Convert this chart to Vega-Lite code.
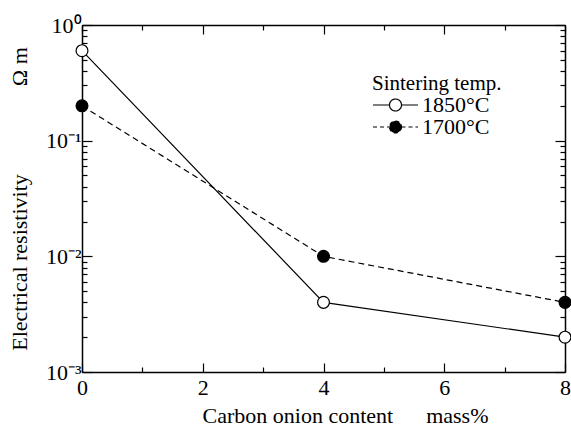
{
  "$schema": "https://vega.github.io/schema/vega-lite/v6.json",
  "width": 483,
  "height": 347,
  "autosize": {"type": "none"},
  "padding": {"left": 82, "top": 25, "right": 6, "bottom": 54},
  "background": "white",
  "config": {
    "view": {"stroke": null},
    "font": "Liberation Serif",
    "axis": {
      "domainColor": "black", "domainWidth": 1.5,
      "tickColor": "black", "tickWidth": 1.2,
      "labelFont": "Liberation Serif", "labelFontSize": 22, "labelColor": "black",
      "titleFont": "Liberation Serif", "titleFontSize": 22, "titleFontWeight": "normal", "titleColor": "black",
      "grid": false, "labelOverlap": false, "labelFlush": false
    },
    "legend": {
      "titleFont": "Liberation Serif", "titleFontSize": 21, "titleFontWeight": "normal", "titleColor": "black",
      "labelFont": "Liberation Serif", "labelFontSize": 22, "labelColor": "black",
      "symbolStrokeColor": "black", "symbolStrokeWidth": 1.2
    }
  },
  "data": {"values": [
    {"c": 0, "r": 0.6, "s": "1850°C"},
    {"c": 4, "r": 0.004, "s": "1850°C"},
    {"c": 8, "r": 0.002, "s": "1850°C"},
    {"c": 0, "r": 0.2, "s": "1700°C"},
    {"c": 4, "r": 0.01, "s": "1700°C"},
    {"c": 8, "r": 0.004, "s": "1700°C"}
  ]},
  "layer": [
    {
      "transform": [{"filter": "datum.s == '1850°C'"}],
      "mark": {"type": "line", "color": "black", "strokeWidth": 1.2},
      "encoding": {
        "x": {"field": "c", "type": "quantitative", "scale": {"domain": [0, 8], "nice": false},
          "axis": {"orient": "bottom", "values": [0,1,2,3,4,5,6,7,8], "format": "d",
            "labelExpr": "datum.value % 2 == 1 ? '' : datum.label",
            "tickSize": {"condition": {"test": "datum.value % 2 == 1", "value": -5}, "value": -9},
            "labelPadding": 14,
            "title": "Carbon onion content\u2003\u2002mass%", "titlePadding": 3, "titleX": 263}},
        "y": {"field": "r", "type": "quantitative", "scale": {"type": "log", "domain": [0.001, 1], "nice": false},
          "axis": {"orient": "left",
            "values": [0.001,0.002,0.003,0.004,0.005,0.006,0.007,0.008,0.009,0.01,0.02,0.03,0.04,0.05,0.06,0.07,0.08,0.09,0.1,0.2,0.3,0.4,0.5,0.6,0.7,0.8,0.9,1],
            "labelExpr": "datum.value == 1 ? '10⁰' : datum.value == 0.1 ? '10⁻¹' : datum.value == 0.01 ? '10⁻²' : datum.value == 0.001 ? '10⁻³' : ''",
            "tickSize": {"condition": {"test": "indexof([0.001,0.01,0.1,1], datum.value) >= 0", "value": -10}, "value": -5},
            "labelPadding": 11,
            "title": "Electrical resistivity\u2003\u2003\u2003\u2003Ω m", "titlePadding": 14}}
      }
    },
    {
      "transform": [{"filter": "datum.s == '1700°C'"}],
      "mark": {"type": "line", "color": "black", "strokeWidth": 1.2, "strokeDash": [6, 4]},
      "encoding": {
        "x": {"field": "c", "type": "quantitative",
          "axis": {"orient": "top", "values": [0,1,2,3,4,5,6,7,8], "labels": false, "title": null,
            "tickSize": {"condition": {"test": "datum.value % 2 == 1", "value": -5}, "value": -9}}},
        "y": {"field": "r", "type": "quantitative",
          "axis": {"orient": "right", "labels": false, "title": null,
            "values": [0.001,0.002,0.003,0.004,0.005,0.006,0.007,0.008,0.009,0.01,0.02,0.03,0.04,0.05,0.06,0.07,0.08,0.09,0.1,0.2,0.3,0.4,0.5,0.6,0.7,0.8,0.9,1],
            "tickSize": {"condition": {"test": "indexof([0.001,0.01,0.1,1], datum.value) >= 0", "value": -10}, "value": -5}}}
      }
    },
    {
      "mark": {"type": "point", "shape": "circle", "filled": true, "stroke": "black", "strokeWidth": 1.2, "size": 140, "opacity": 1},
      "encoding": {
        "x": {"field": "c", "type": "quantitative", "axis": null},
        "y": {"field": "r", "type": "quantitative", "axis": null},
        "fill": {"field": "s", "type": "nominal", "scale": {"domain": ["1850°C", "1700°C"], "range": ["white", "black"]},
          "legend": {"title": "Sintering temp.", "orient": "none", "legendX": 290, "legendY": 48,
            "symbolType": "M-2,0H1.3M3.7,0H7M3.7,0A1.2,1.2,0,1,1,1.3,0A1.2,1.2,0,1,1,3.7,0Z",
            "symbolSize": 100, "labelOffset": 28, "titlePadding": 0, "rowPadding": -6,
            "labelFont": "Liberation Serif", "labelFontSize": 22, "labelColor": "black",
            "titleFont": "Liberation Serif", "titleFontSize": 21, "titleFontWeight": "normal",
            "encoding": {"symbols": {
              "strokeDash": {"condition": {"test": "datum.value == '1700°C'", "value": [4, 3]}, "value": [1, 0]},
              "stroke": {"value": "black"},
              "strokeWidth": {"value": 1.2}}}}}
      }
    }
  ]
}
